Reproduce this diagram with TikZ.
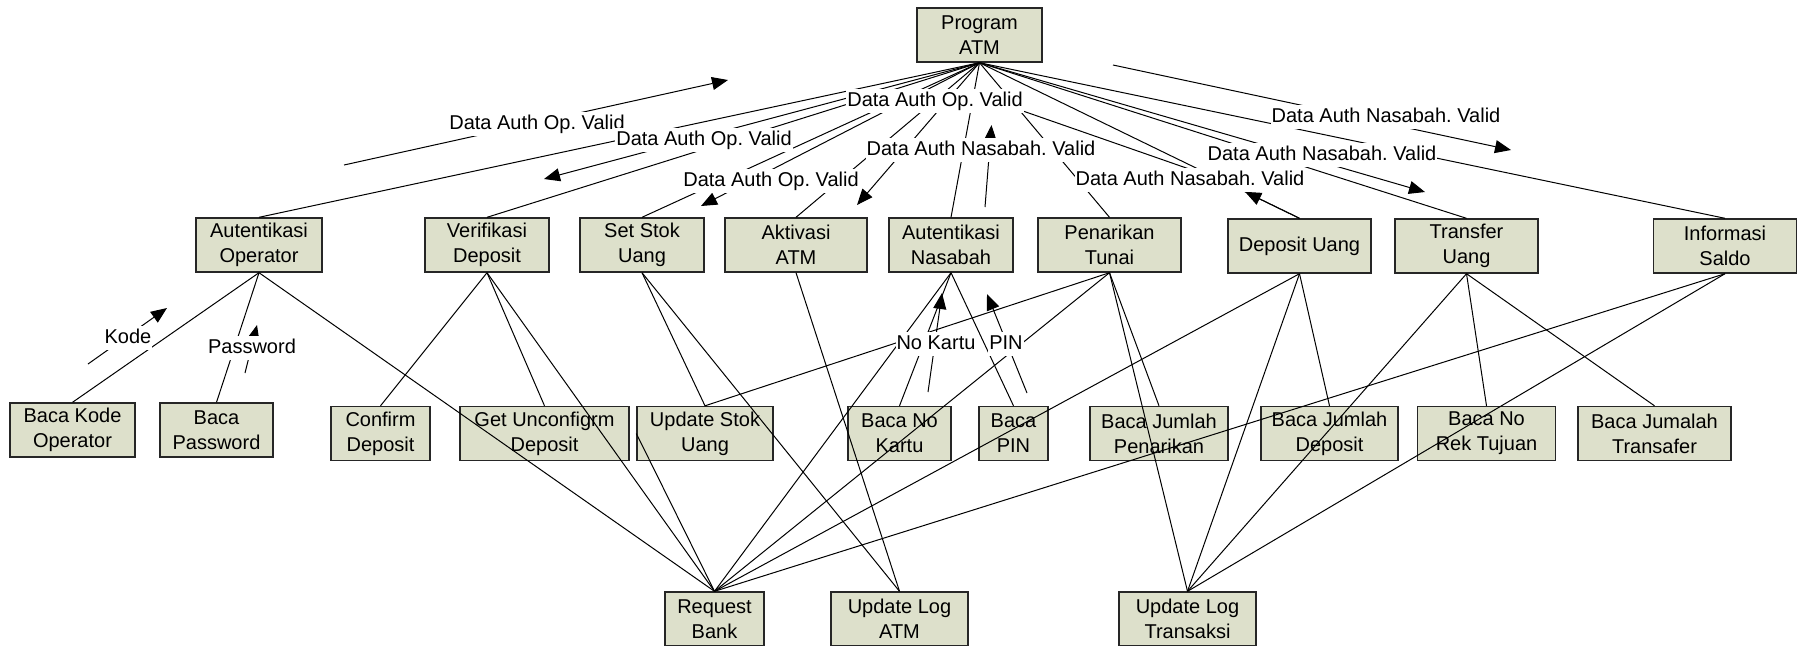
\documentclass[tikz,border=0pt]{standalone}
\usepackage{fontspec}
\setmainfont{Liberation Sans}
\usetikzlibrary{arrows.meta,calc}
\definecolor{boxfill}{RGB}{221,224,203}
\newcommand{\lblfont}{\fontsize{10pt}{12.5pt}\selectfont}
\frenchspacing
\begin{document}
\begin{tikzpicture}[x=0.5pt,y=-0.5pt,
  bx/.style={draw=black!85, fill=boxfill, line width=0.7pt, inner sep=0pt, align=center, font=\lblfont, minimum height=27pt},
  cn/.style={line width=0.5pt},
  arr/.style={line width=0.5pt, -{Triangle[length=8pt,width=6.5pt]}},
  lbl/.style={fill=white, inner xsep=0.5pt, inner ysep=1pt, font=\lblfont, text height=0.75em, text depth=0.22em}]
\useasboundingbox (0,0) rectangle (1797,645);

% ---- boxes ----
\node[bx, minimum width=62.5pt] (pa) at (979.5,35) {Program\\ATM};
\node[bx, minimum width=63pt] (ao) at (259,245) {Autentikasi\\Operator};
\node[bx, minimum width=62pt] (vd) at (487,245) {Verifikasi\\Deposit};
\node[bx, minimum width=62pt] (ss) at (642,245) {Set Stok\\Uang};
\node[bx, minimum width=71pt] (ak) at (796,245) {Aktivasi\\ATM};
\node[bx, minimum width=62pt] (an) at (951,245) {Autentikasi\\Nasabah};
\node[bx, minimum width=71.5pt] (pt) at (1109.5,245) {Penarikan\\Tunai};
\node[bx, minimum width=71.5pt] (du) at (1299.5,246) {Deposit Uang};
\node[bx, minimum width=71.5pt] (tu) at (1466.5,246) {Transfer\\Uang};
\node[bx, minimum width=71.5pt] (is) at (1725,246) {Informasi\\Saldo};

\node[bx, minimum width=62.5pt] (bko) at (72.5,430) {Baca Kode\\Operator};
\node[bx, minimum width=56.5pt] (bp) at (216.5,430) {Baca\\Password};
\node[bx, minimum width=49.5pt] (cd) at (380.5,433.5) {Confirm\\Deposit};
\node[bx, minimum width=84.5pt] (gu) at (544.5,433.5) {Get Unconfigrm\\Deposit};
\node[bx, minimum width=68pt] (us) at (705,433.5) {Update Stok\\Uang};
\node[bx, minimum width=51.5pt] (bnk) at (899.5,433.5) {Baca No\\Kartu};
\node[bx, minimum width=34.5pt] (bpin) at (1013.5,433.5) {Baca\\PIN};
\node[bx, minimum width=69pt] (bjp) at (1159,433.5) {Baca Jumlah\\Penarikan};
\node[bx, minimum width=68.5pt] (bjd) at (1329.5,433.5) {Baca Jumlah\\Deposit};
\node[bx, minimum width=69pt] (bnr) at (1486.5,433.5) {Baca No\\Rek Tujuan};
\node[bx, minimum width=76.5pt] (bjt) at (1654.5,433.5) {Baca Jumalah\\Transafer};

\node[bx, minimum width=49.5pt] (rb) at (714.5,619) {Request\\Bank};
\node[bx, minimum width=68.5pt] (ula) at (899.5,619) {Update Log\\ATM};
\node[bx, minimum width=68.5pt] (ult) at (1187.5,619) {Update Log\\Transaksi};

% ---- connectors ----
\foreach \c in {ao,vd,ss,ak,an,pt,du,tu,is} \draw[cn] (pa.south) -- (\c.north);
\foreach \c in {bko,bp,rb} \draw[cn] (ao.south) -- (\c.north);
\foreach \c in {cd,gu,rb} \draw[cn] (vd.south) -- (\c.north);
\foreach \c in {us,ula} \draw[cn] (ss.south) -- (\c.north);
\draw[cn] (ak.south) -- (ula.north);
\foreach \c in {bnk,bpin,rb} \draw[cn] (an.south) -- (\c.north);
\foreach \c in {bjp,ult,rb,us} \draw[cn] (pt.south) -- (\c.north);
\foreach \c in {bjd,ult,rb} \draw[cn] (du.south) -- (\c.north);
\foreach \c in {bnr,bjt,ult} \draw[cn] (tu.south) -- (\c.north);
\foreach \c in {rb,ult} \draw[cn] (is.south) -- (\c.north);
\draw[cn] (us.west) -- (rb.north);

% ---- data couples ----
\coordinate (a1s) at (344,165);   \coordinate (a1e) at (728,80);
\coordinate (a2e) at (544,179);
\coordinate (a3e) at (701,206);
\coordinate (a4e) at (857,205);
\coordinate (a5s) at (985,207);   \coordinate (a5e) at (991.5,125);
\coordinate (a6s) at (1113,65);   \coordinate (a6e) at (1511,150);
\coordinate (a7e) at (1425,192);
\coordinate (a8e) at ($(pa.south)!0.83!(du.north)$);
\coordinate (mls) at (1000,103);  \coordinate (mle) at (1215,178);
\coordinate (kos) at (88,364);    \coordinate (koe) at (167,308);
\coordinate (pws) at (245,373);   \coordinate (pwe) at (257,325);
\coordinate (nks) at (928,392);   \coordinate (nke) at (942,293);
\coordinate (pns) at (1027,393);  \coordinate (pne) at (987,294);

\draw[arr] (a1s) -- (a1e);
\draw[arr] (pa.south) -- (a2e);
\draw[arr] (pa.south) -- (a3e);
\draw[arr] (pa.south) -- (a4e);
\draw[arr] (a5s) -- (a5e);
\draw[arr] (a6s) -- (a6e);
\draw[arr] (pa.south) -- (a7e);
\draw[arr] (du.north) -- (a8e);
\draw[cn] (mls) -- (mle);
\draw[arr] (kos) -- (koe);
\draw[arr] (pws) -- (pwe);
\draw[arr] (nks) -- (nke);
\draw[arr] (pns) -- (pne);

% ---- labels ----
\node[lbl] (l1) at (537,124) {Data Auth Op. Valid};
\node[lbl] (l2) at (704,140) {Data Auth Op. Valid};
\node[lbl] (l3) at (771,181) {Data Auth Op. Valid};
\node[lbl] (l4) at (935,101) {Data Auth Op. Valid};
\node[lbl] (l5) at (981,150) {Data Auth Nasabah. Valid};
\node[lbl] (l6) at (1386,117) {Data Auth Nasabah. Valid};
\node[lbl] (l7) at (1322,155) {Data Auth Nasabah. Valid};
\node[lbl] (l8) at (1190,180) {Data Auth Nasabah. Valid};
\node[lbl] (lko) at (128,338) {Kode};
\node[lbl] (lpw) at (252,348) {Password};
\node[lbl] (lnk) at (936,344) {No Kartu};
\node[lbl] (lpn) at (1006,344) {PIN};
\end{tikzpicture}
\end{document}
